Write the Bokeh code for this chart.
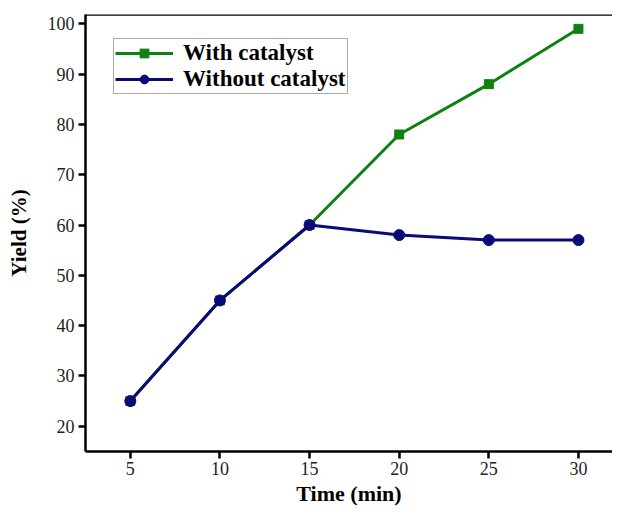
from bokeh.plotting import figure
from bokeh.models import Range1d, FixedTicker, Span, Legend, LegendItem
from bokeh.embed import file_html
from bokeh.resources import INLINE

time_min = [5, 10, 15, 20, 25, 30]
with_catalyst = [25, 45, 60, 78, 88, 99]
without_catalyst = [25, 45, 60, 58, 57, 57]
x_ticks = [5, 10, 15, 20, 25, 30]
y_ticks = [20, 30, 40, 50, 60, 70, 80, 90, 100]

FONT = "Liberation Serif"
GREEN = "#108010"
NAVY = "#0a0a78"

Y_TOP = 101.85
p = figure(width=612, height=510, output_backend="svg", toolbar_location=None,
           x_range=Range1d(2.5, 31.9), y_range=Range1d(14.97, Y_TOP),
           min_border_left=85, min_border_right=0, min_border_top=14, min_border_bottom=59)
p.outline_line_color = None
p.grid.visible = False
p.background_fill_color = "white"
p.border_fill_color = "white"

# top frame line
p.add_layout(Span(location=Y_TOP, dimension="width", line_color="black", line_width=2.5))

r1 = p.line(time_min, with_catalyst, line_color=GREEN, line_width=3)
s1 = p.scatter(time_min, with_catalyst, marker="square", size=9, fill_color=GREEN, line_color=GREEN)
r2 = p.line(time_min, without_catalyst, line_color=NAVY, line_width=3)
s2 = p.scatter(time_min, without_catalyst, marker="circle", size=11, fill_color=NAVY, line_color=NAVY)

for ax in (p.xaxis[0], p.yaxis[0]):
    ax.axis_line_width = 2.5
    ax.axis_line_color = "black"
    ax.major_tick_line_width = 2.5
    ax.major_tick_line_color = "black"
    ax.major_tick_in = 0
    ax.major_tick_out = 7
    ax.minor_tick_line_color = None
    ax.major_label_text_font = FONT
    ax.major_label_text_font_size = "18px"
    ax.major_label_text_color = "#222222"
    ax.axis_label_text_font = FONT
    ax.axis_label_text_font_style = "bold"
    ax.axis_label_text_font_size = "22px"
    ax.axis_label_text_color = "black"

p.xaxis.ticker = FixedTicker(ticks=x_ticks)
p.yaxis.ticker = FixedTicker(ticks=y_ticks)
p.xaxis.axis_label = "Time (min)"
p.yaxis.axis_label = "Yield (%)"
p.yaxis.axis_label_text_font_size = "21px"
p.xaxis.major_label_standoff = 3
p.xaxis.axis_label_standoff = 3
p.yaxis.major_label_standoff = 4
p.yaxis.axis_label_standoff = 14

legend = Legend(items=[LegendItem(label="With catalyst", renderers=[r1, s1]),
                       LegendItem(label="Without catalyst", renderers=[r2, s2])],
                location=(28, 357))
legend.label_text_font = FONT
legend.label_text_font_style = "bold"
legend.label_text_font_size = "23px"
legend.label_text_color = "black"
legend.border_line_color = "#555555"
legend.border_line_width = 1
legend.glyph_width = 58
legend.glyph_height = 22
legend.label_height = 22
legend.spacing = 0
legend.padding = 1
legend.margin = 0
legend.label_standoff = 10
legend.background_fill_alpha = 1
p.add_layout(legend)

open("out.html", "w").write(file_html(p, INLINE))
